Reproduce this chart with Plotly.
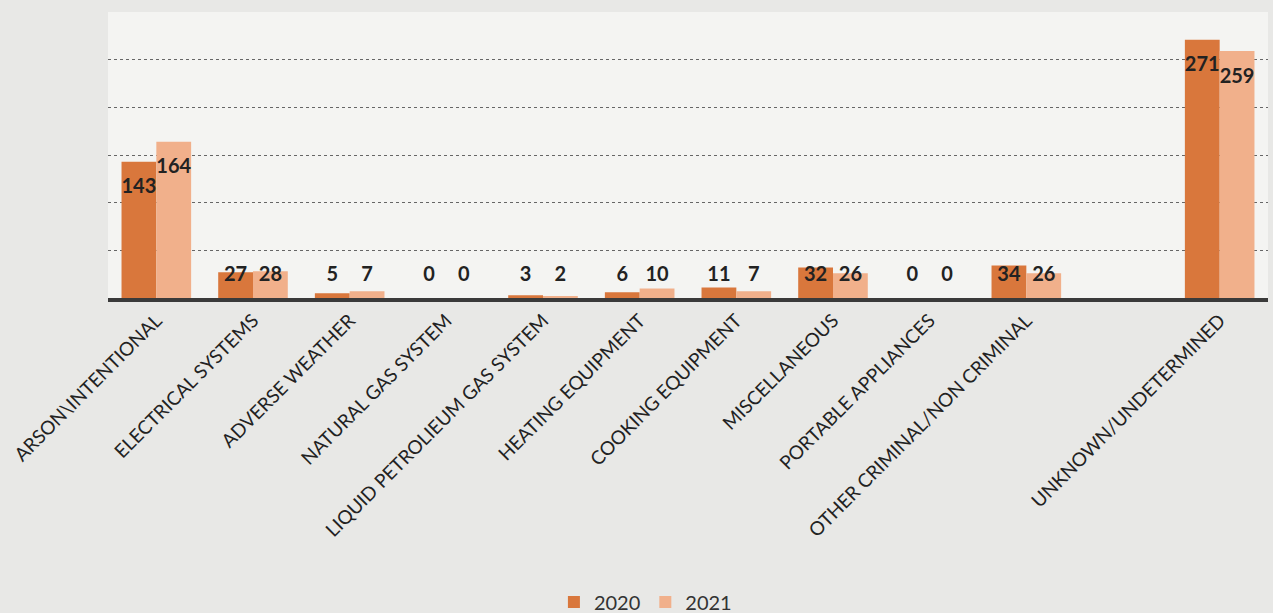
import plotly.graph_objects as go

# Fire causes, counts per year (one empty slot before the last group)
categories = [
    "ARSON&#92;INTENTIONAL",
    "ELECTRICAL SYSTEMS",
    "ADVERSE WEATHER",
    "NATURAL GAS SYSTEM",
    "LIQUID PETROLIEUM GAS SYSTEM",
    "HEATING EQUIPMENT",
    "COOKING EQUIPMENT",
    "MISCELLANEOUS",
    "PORTABLE APPLIANCES",
    "OTHER CRIMINAL/NON CRIMINAL",
    "",
    "UNKNOWN/UNDETERMINED",
]
values_2020 = [143, 27, 5, 0, 3, 6, 11, 32, 0, 34, None, 271]
values_2021 = [164, 28, 7, 0, 2, 10, 7, 26, 0, 26, None, 259]

color_2020 = "#d9773c"
color_2021 = "#f1b08b"
bar_w = 0.36

xs = list(range(len(categories)))


def label_y(v):
    # value labels sit just inside the bar top, with a floor for short bars
    return max(v - 28, 23)


fig = go.Figure()
for name, vals, col, off in [("2020", values_2020, color_2020, -bar_w),
                             ("2021", values_2021, color_2021, 0.0)]:
    fig.add_trace(go.Bar(
        x=xs, y=vals, name=name, width=bar_w, offset=off,
        marker=dict(color=col, line=dict(width=0)),
    ))
    pts = [(x + off + bar_w / 2, label_y(v), str(v)) for x, v in zip(xs, vals) if v is not None]
    fig.add_trace(go.Scatter(
        x=[p[0] for p in pts], y=[p[1] for p in pts], text=[p[2] for p in pts],
        mode="text", textposition="middle center", showlegend=False, hoverinfo="skip",
        textfont=dict(family="Lato", size=20, color="#222222", weight="bold"),
    ))

fig.update_layout(
    width=1273, height=613,
    margin=dict(l=108, r=5, t=12, b=315, autoexpand=False),
    paper_bgcolor="#e8e8e6",
    plot_bgcolor="#f4f4f2",
    barmode="overlay",
    showlegend=True,
    legend=dict(
        orientation="h", xref="container", yref="container",
        x=0.507, y=0.018, xanchor="center", yanchor="middle",
        font=dict(family="Lato", size=20, color="#333333"),
        bgcolor="rgba(0,0,0,0)", itemwidth=30,
    ),
)
fig.update_xaxes(
    range=[-0.5, len(categories) - 0.5],
    tickmode="array", tickvals=xs, ticktext=categories, tickangle=-45,
    tickfont=dict(family="Lato", size=19, color="#222222"),
    showgrid=False, zeroline=False,
    showline=True, linecolor="#3a3a3a", linewidth=4,
    ticks="",
)
fig.update_yaxes(
    range=[0, 300],
    tickmode="array", tickvals=[50, 100, 150, 200, 250],
    showticklabels=False,
    showgrid=True, gridcolor="#666666", griddash="dot", gridwidth=1,
    zeroline=False, showline=False,
)

fig.write_html("out.html")
